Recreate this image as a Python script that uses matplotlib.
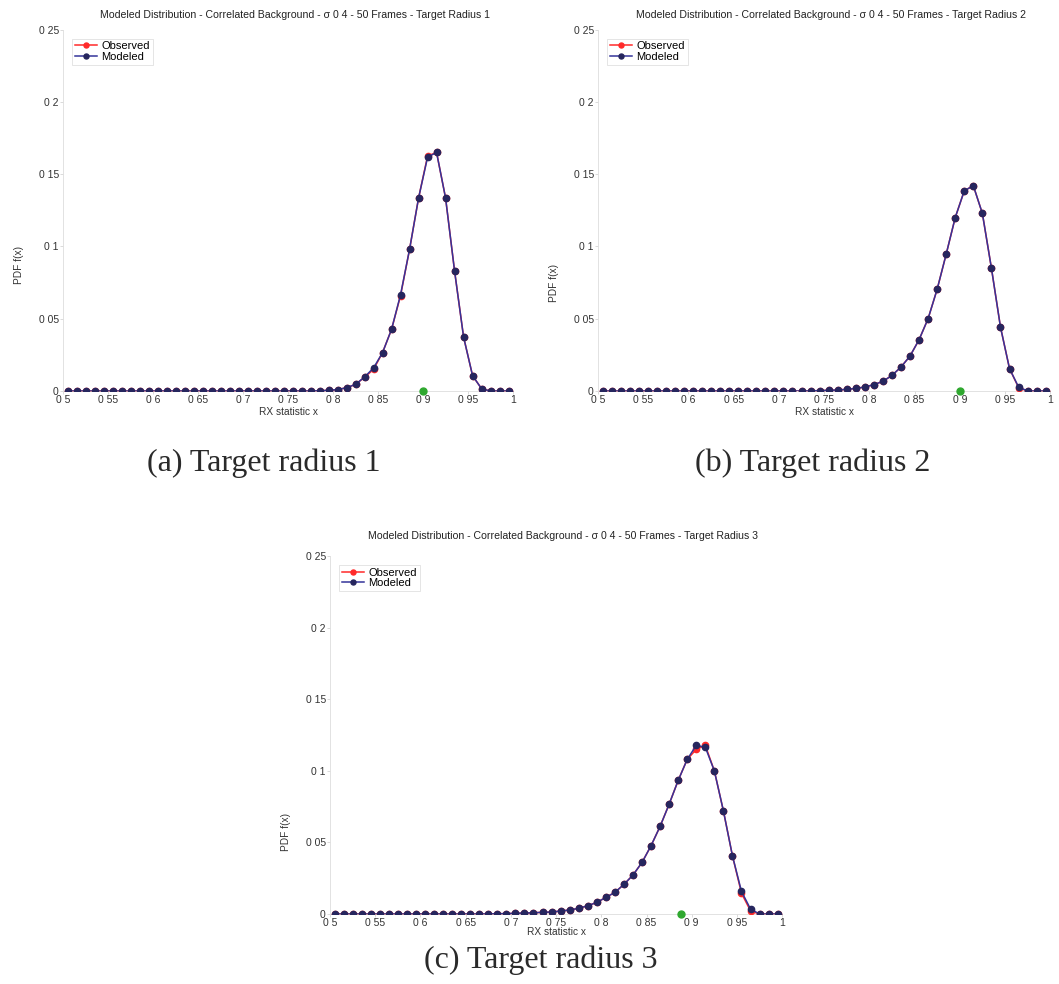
import numpy as np
import matplotlib.pyplot as plt

# bin centres of the RX statistic histogram
x = np.round(np.arange(0.505, 1.0, 0.01), 3)

# PDF per bin, target radius 1
obs_r1 = [0] * 28 + [0.0002, 0.0005, 0.0010, 0.0023, 0.0046, 0.0095, 0.0150, 0.0266,
                     0.0427, 0.0660, 0.0980, 0.1335, 0.1625, 0.1650, 0.1335, 0.0830,
                     0.0374, 0.0106, 0.0016, 0, 0, 0]
mod_r1 = [0] * 28 + [0.0002, 0.0005, 0.0010, 0.0023, 0.0046, 0.0097, 0.0160, 0.0266,
                     0.0427, 0.0667, 0.0980, 0.1335, 0.1617, 0.1650, 0.1335, 0.0830,
                     0.0374, 0.0106, 0.0016, 0, 0, 0]

# target radius 2
obs_r2 = [0] * 23 + [0.0001, 0.0003, 0.0005, 0.0007, 0.0012, 0.0018, 0.0028, 0.0044,
                     0.0067, 0.0108, 0.0166, 0.0242, 0.0355, 0.0501, 0.0704, 0.0947,
                     0.1200, 0.1385, 0.1420, 0.1228, 0.0850, 0.0443, 0.0155, 0.0024,
                     0, 0, 0]
mod_r2 = [0] * 23 + [0.0001, 0.0003, 0.0005, 0.0007, 0.0012, 0.0018, 0.0028, 0.0044,
                     0.0067, 0.0108, 0.0166, 0.0242, 0.0355, 0.0501, 0.0704, 0.0947,
                     0.1200, 0.1385, 0.1420, 0.1228, 0.0850, 0.0443, 0.0155, 0.0028,
                     0, 0, 0]

# target radius 3
obs_r3 = [0] * 17 + [0.0001, 0.0002, 0.0003, 0.0005, 0.0007, 0.0009, 0.0012, 0.0014,
                     0.0021, 0.0028, 0.0040, 0.0058, 0.0081, 0.0116, 0.0151, 0.0207,
                     0.0272, 0.0360, 0.0477, 0.0612, 0.0767, 0.0933, 0.1080, 0.1150,
                     0.1178, 0.1000, 0.0721, 0.0407, 0.0145, 0.0022, 0, 0, 0]
mod_r3 = [0] * 17 + [0.0001, 0.0002, 0.0003, 0.0005, 0.0007, 0.0009, 0.0012, 0.0014,
                     0.0021, 0.0028, 0.0040, 0.0058, 0.0081, 0.0116, 0.0151, 0.0207,
                     0.0272, 0.0360, 0.0477, 0.0612, 0.0767, 0.0933, 0.1080, 0.1178,
                     0.1165, 0.1000, 0.0721, 0.0407, 0.0158, 0.0035, 0, 0, 0]

# green marker on the x axis
green_x = [0.900, 0.900, 0.888]

radius = [1, 2, 3]
captions = ['(a) Target radius 1', '(b) Target radius 2', '(c) Target radius 3']

xticks = [0.5, 0.55, 0.6, 0.65, 0.7, 0.75, 0.8, 0.85, 0.9, 0.95, 1.0]
xtick_labels = ['0 5', '0 55', '0 6', '0 65', '0 7', '0 75', '0 8', '0 85', '0 9', '0 95', '1']
yticks = [0, 0.05, 0.1, 0.15, 0.2, 0.25]
ytick_labels = ['0', '0 05', '0 1', '0 15', '0 2', '0 25']

plt.rcParams['font.family'] = ['Liberation Sans', 'DejaVu Sans']

fig = plt.figure(figsize=(10.59, 9.84), dpi=100)
boxes = [[0.0595, 0.6026, 0.425, 0.3674],
         [0.5647, 0.6026, 0.427, 0.3674],
         [0.3116, 0.0711, 0.427, 0.3638]]
cap_pos = [(0.249, 0.529), (0.767, 0.529), (0.511, 0.024)]
title_pad = [8, 8, 12]
ylab_y = [0.35, 0.30, 0.23]

series = [(obs_r1, mod_r1), (obs_r2, mod_r2), (obs_r3, mod_r3)]

for k in range(3):
    ax = fig.add_axes(boxes[k])
    obs, mod = series[k]
    ax.plot(x, obs, '-o', color='#ff2a2a', lw=1.1, ms=4.5, mec='#ff2a2a', mfc='#ff2a2a',
            label='Observed', zorder=3)
    ax.plot(x, mod, '-o', color='#34349a', lw=1.1, ms=4.5, mec='#26265e', mfc='#26265e',
            label='Modeled', zorder=4)
    ax.plot([green_x[k]], [0], 'o', color='#2fa82f', ms=5, zorder=5, clip_on=False)

    ax.set_xlim(0.5, 1.0)
    ax.set_ylim(0, 0.25)
    ax.set_xticks(xticks)
    ax.set_xticklabels(xtick_labels)
    ax.set_yticks(yticks)
    ax.set_yticklabels(ytick_labels)
    ax.tick_params(labelsize=7.5, length=2, width=0.5, color='#cccccc', pad=1,
                   labelcolor='#333333')
    for s in ['top', 'right']:
        ax.spines[s].set_visible(False)
    for s in ['left', 'bottom']:
        ax.spines[s].set_color('#dddddd')
        ax.spines[s].set_linewidth(0.6)

    ax.set_title('Modeled Distribution - Correlated Background - σ 0 4 - 50 Frames - '
                 'Target Radius %d' % radius[k], fontsize=7.6, color='#222222',
                 pad=title_pad[k], x=0.515)
    ax.set_xlabel('RX statistic x', fontsize=7.3, color='#333333',
                  labelpad=-1 if k == 2 else 1)
    ax.set_ylabel('PDF f(x)', fontsize=7.3, color='#333333')
    ax.yaxis.set_label_coords(-0.087, ylab_y[k])

    leg = ax.legend(loc='upper left', bbox_to_anchor=(0.02, 0.975), fontsize=8,
                    handlelength=2.0, borderpad=0.25, labelspacing=0.05,
                    handletextpad=0.4, borderaxespad=0, markerscale=0.8,
                    fancybox=False, framealpha=1)
    leg.get_frame().set_edgecolor('#e0e0e0')
    leg.get_frame().set_linewidth(0.6)

    fig.text(cap_pos[k][0], cap_pos[k][1], captions[k], ha='center', va='center',
             fontsize=23, family='Liberation Serif', color='#2a2a2a')

fig.savefig('out.png', dpi=100)
